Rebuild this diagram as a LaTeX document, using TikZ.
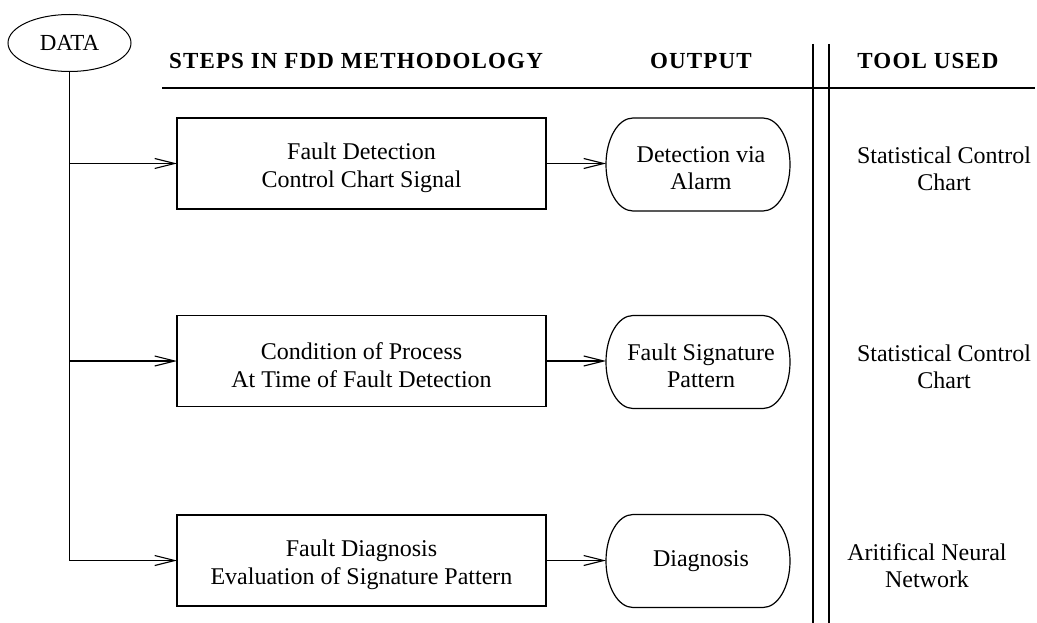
\documentclass[tikz,border=0pt]{standalone}
\usepackage{fontspec}
\setmainfont{Liberation Serif}
\usetikzlibrary{arrows.meta,shapes.geometric}
\newcommand\drawstadium[1]{%
  \draw[ln] ([xshift=27pt]#1.north west) -- ([xshift=-27pt]#1.north east)
    arc[start angle=90,end angle=-90,x radius=27pt,y radius=46.5pt]
    -- ([xshift=27pt]#1.south west)
    arc[start angle=270,end angle=90,x radius=27pt,y radius=46.5pt] -- cycle;}
\begin{document}
\begin{tikzpicture}[x=1pt,y=-1pt,
  every node/.style={inner sep=0pt,outer sep=0pt},
  ln/.style={line width=1.2pt},
  arr/.style={ln,-{Straight Barb[length=20pt,width=10pt,line width=1.1pt]}},
  stepbox/.style={draw,ln,minimum width=369pt,minimum height=91pt},
  outshape/.style={minimum width=184pt,minimum height=93pt},
  steptext/.style={align=center,font=\fontsize{24}{28}\selectfont},
  outtext/.style={align=center,font=\fontsize{24}{27}\selectfont},
  tooltext/.style={align=center,font=\fontsize{24}{27}\selectfont},
  head/.style={font=\fontsize{23}{23}\selectfont\bfseries\addfontfeature{LetterSpace=5}},
  dataell/.style={draw,line width=1pt,ellipse,minimum width=123pt,minimum height=57pt,font=\fontsize{23}{23}\selectfont},
]
\useasboundingbox (0,0) rectangle (1037,623);

% headers and table rules
\node[head] (h1) at (356,61) {STEPS IN FDD METHODOLOGY};
\node[head] (h2) at (701,61) {OUTPUT};
\node[head] (h3) at (928,61) {TOOL USED};
\coordinate (hl0) at (162,88);
\coordinate (hl1) at (1035,88);
\draw[ln] (hl0) -- (hl1);
\coordinate (va0) at (813,44);
\coordinate (va1) at (813,623);
\coordinate (vb0) at (829,44);
\coordinate (vb1) at (829,623);
\draw[ln] (va0) -- (va1);
\draw[ln] (vb0) -- (vb1);

% data source
\node[dataell] (data) at (69.5,43) {DATA};

% step boxes
\node[stepbox] (b1) at (361.5,163.5) {};
\node[stepbox] (b2) at (361.5,361) {};
\node[stepbox] (b3) at (361.5,560.5) {};
\node[steptext] (s1) at ([yshift=-4pt]b1.center) {Fault Detection\\Control Chart Signal};
\node[steptext] (s2) at ([yshift=-4pt]b2.center) {Condition of Process\\At Time of Fault Detection};
\node[steptext] (s3) at ([yshift=-4pt]b3.center) {Fault Diagnosis\\Evaluation of Signature Pattern};

% outputs
\node[outshape] (o1) at (698,164.5) {};
\node[outshape] (o2) at (698,362) {};
\node[outshape] (o3) at (698,561) {};
\drawstadium{o1}
\drawstadium{o2}
\drawstadium{o3}
\node[outtext] (p1) at ([xshift=3pt,yshift=-4pt]o1.center) {Detection via\\Alarm};
\node[outtext] (p2) at ([xshift=3pt,yshift=-4pt]o2.center) {Fault Signature\\Pattern};
\node[outtext] (p3) at ([xshift=3pt]o3.center) {Diagnosis};

% tools
\node[tooltext] (t1) at (944,169) {Statistical Control\\Chart};
\node[tooltext] (t2) at (944,367) {Statistical Control\\Chart};
\node[tooltext] (t3) at (927,566) {Aritifical Neural\\Network};

% connectors
\draw[arr] (data.south) |- (b3.west);
\draw[arr] (data.south |- b1.west) -- (b1.west);
\draw[arr] (data.south |- b2.west) -- (b2.west);
\draw[arr] (b1.east) -- (b1.east -| o1.west);
\draw[arr] (b2.east) -- (b2.east -| o2.west);
\draw[arr] (b3.east) -- (b3.east -| o3.west);
\end{tikzpicture}
\end{document}
